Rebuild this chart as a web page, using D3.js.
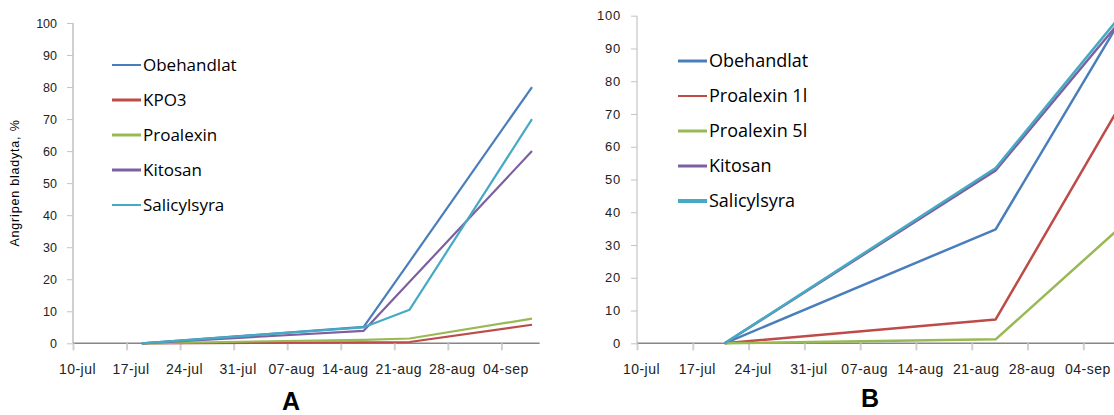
<!DOCTYPE html>
<html>
<head>
<meta charset="utf-8">
<script src="https://cdn.jsdelivr.net/npm/d3@7"></script>
<style>
  html, body { margin: 0; padding: 0; background: #fff; }
  svg { display: block; }
</style>
</head>
<body>
<svg id="chart" width="1114" height="415"></svg>
<script>
// ---------- DATA ----------
const xTickLabels = ["10-jul", "17-jul", "24-jul", "31-jul", "07-aug", "14-aug", "21-aug", "28-aug", "04-sep"];
const xTickDates = ["2009-07-10", "2009-07-17", "2009-07-24", "2009-07-31", "2009-08-07", "2009-08-14", "2009-08-21", "2009-08-28", "2009-09-04"];
const yTicks = [0, 10, 20, 30, 40, 50, 60, 70, 80, 90, 100];

// Chart A
const datesA = ["2009-07-19", "2009-08-17", "2009-08-23", "2009-09-08"];
const seriesNamesA = ["Obehandlat", "KPO3", "Proalexin", "Kitosan", "Salicylsyra"];
const obehandlatA = [0, 5.1, 25.5, 80];
const kpo3A = [0, 0.3, 0.4, 5.8];
const proalexinA = [0, 1.1, 1.5, 7.7];
const kitosanA = [0, 3.9, 19.2, 60];
const salicylsyraA = [0, 5.0, 10.5, 70];

// Chart B
const datesB = ["2009-07-21", "2009-08-24", "2009-09-08"];
const seriesNamesB = ["Obehandlat", "Proalexin 1l", "Proalexin 5l", "Kitosan", "Salicylsyra"];
const obehandlatB = [0, 34.8, 96];
const proalexin1B = [0, 7.3, 70];
const proalexin5B = [0, 1.2, 34];
const kitosanB = [0, 52.8, 96.5];
const salicylsyraB = [0, 53.5, 98];

const colors = ["#4A7EBB", "#BE4B48", "#98B954", "#7D60A0", "#46AAC5"];

// ---------- DRAW ----------
const parse = d3.timeParse("%Y-%m-%d");
const svg = d3.select("#chart");

function drawChart(cfg) {
  const g = svg.append("g");
  const x = d3.scaleTime()
    .domain([parse("2009-07-10"), parse("2009-09-09")])
    .range([cfg.x0, cfg.x1]);
  const y = d3.scaleLinear().domain([0, 100]).range([cfg.yBottom, cfg.yTop]);

  // y axis line
  g.append("line")
    .attr("x1", cfg.x0).attr("x2", cfg.x0)
    .attr("y1", y(100)).attr("y2", y(0))
    .attr("stroke", "#d0d0d0").attr("stroke-width", cfg.yAxisWidth);

  // y axis ticks + labels
  const yAxis = d3.axisLeft(y).tickValues(yTicks).tickSize(6).tickPadding(10).tickFormat(d3.format("d"));
  const ya = g.append("g").attr("transform", `translate(${cfg.x0},0)`).call(yAxis);
  ya.select(".domain").remove();
  ya.selectAll(".tick line").attr("stroke", "#c4c4c4");
  ya.selectAll(".tick text")
    .attr("fill", "#222")
    .style("font-family", "'Liberation Sans', Arial, sans-serif")
    .style("font-size", cfg.yFont + "px")
    .style("letter-spacing", cfg.yLetter + "px");

  // x axis
  const xAxis = d3.axisBottom(x)
    .tickValues(xTickDates.map(parse))
    .tickSize(7).tickPadding(14)
    .tickFormat((d, i) => xTickLabels[i]);
  const xa = g.append("g").attr("transform", `translate(0,${y(0)})`).call(xAxis);
  xa.select(".domain").attr("stroke", "#868686").attr("stroke-width", 1.5)
    .attr("d", `M${cfg.x0},0H${cfg.x1}`);
  xa.selectAll(".tick line").attr("stroke", "#d0d0d0").attr("stroke-width", 2);
  xa.selectAll(".tick text")
    .attr("fill", "#222")
    .attr("dx", 4)
    .style("font-family", "'Liberation Sans', Arial, sans-serif")
    .style("font-size", "14px")
    .style("letter-spacing", "0.5px");

  // lines
  const dates = cfg.dates.map(parse);
  const line = d3.line().x((d, i) => x(dates[i])).y(d => y(d));
  cfg.series.forEach((s, k) => {
    g.append("path")
      .attr("d", line(s))
      .attr("fill", "none")
      .attr("stroke", colors[k])
      .attr("stroke-width", cfg.lineWidth)
      .attr("stroke-linejoin", "round");
  });

  // legend
  cfg.names.forEach((name, k) => {
    const ly = cfg.legY + k * 35;
    g.append("line")
      .attr("x1", cfg.legX).attr("x2", cfg.legX + 29)
      .attr("y1", ly).attr("y2", ly)
      .attr("stroke", colors[k]).attr("stroke-width", cfg.legWidths[k]);
    g.append("text")
      .attr("x", cfg.legX + 31).attr("y", ly)
      .attr("dy", "0.35em")
      .attr("fill", "#000")
      .style("font-family", "'Open Sans', 'Liberation Sans', sans-serif")
      .style("font-size", cfg.legFont + "px")
      .text(name);
  });

  // y title
  if (cfg.yTitle) {
    g.append("text")
      .attr("transform", `translate(19,183) rotate(-90)`)
      .attr("text-anchor", "middle")
      .attr("fill", "#000")
      .style("font-family", "'Liberation Sans', Arial, sans-serif")
      .style("font-size", "12.5px")
      .style("letter-spacing", "0.8px")
      .text(cfg.yTitle);
  }

  // panel letter
  g.append("text")
    .attr("x", cfg.letterX).attr("y", cfg.letterY)
    .attr("text-anchor", "middle")
    .attr("fill", "#000")
    .style("font-family", "'Liberation Sans', Arial, sans-serif")
    .style("font-weight", "bold")
    .style("font-size", "25px")
    .text(cfg.letter);
}

drawChart({
  x0: 73, x1: 73 + 61 * 7.65, yTop: 23, yBottom: 343.3,
  dates: datesA,
  series: [obehandlatA, kpo3A, proalexinA, kitosanA, salicylsyraA],
  names: seriesNamesA,
  legX: 112, legY: 65, legFont: 17, legWidths: [2, 3, 3, 3, 2],
  lineWidth: 2.2, yAxisWidth: 2, yFont: 12.5, yLetter: 0,
  yTitle: "Angripen bladyta, %",
  letter: "A", letterX: 291, letterY: 410
});

drawChart({
  x0: 637, x1: 637 + 61 * 7.97, yTop: 15.7, yBottom: 343.3,
  dates: datesB,
  series: [obehandlatB, proalexin1B, proalexin5B, kitosanB, salicylsyraB],
  names: seriesNamesB,
  legX: 678, legY: 61, legFont: 18, legWidths: [3, 2, 3, 3, 4],
  lineWidth: 2.5, yAxisWidth: 1.5, yFont: 13, yLetter: 0.8,
  yTitle: null,
  letter: "B", letterX: 870, letterY: 407
});
</script>
</body>
</html>
